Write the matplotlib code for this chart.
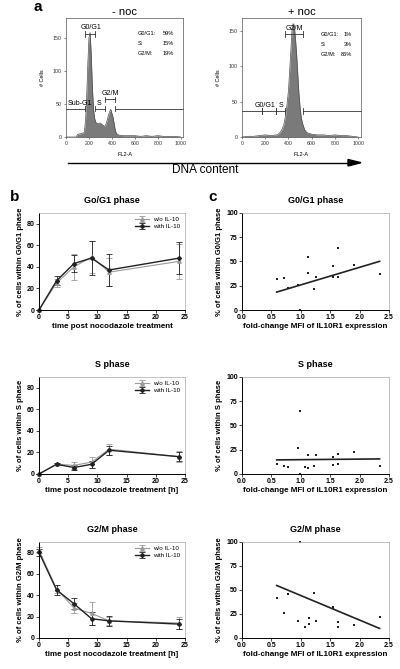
import matplotlib.pyplot as plt
import numpy as np

plt.rcParams['font.family'] = ['Liberation Sans', 'DejaVu Sans']

# ---- panel a: DNA content histograms (FL2-A channel, # cells) ----
noc_minus_x = [0, 90, 100, 130, 160, 170, 180, 190, 200, 210, 220, 230, 240, 250, 260, 280,
               300, 320, 340, 350, 360, 370, 380, 390, 400, 410, 420, 430, 440, 460, 500,
               550, 600, 650, 700, 750, 800, 850, 900, 950, 1000]
noc_minus_y = [0, 0, 4, 5, 7, 25, 60, 110, 150, 158, 125, 75, 42, 28, 22, 20,
               21, 18, 16, 20, 26, 33, 38, 42, 36, 30, 20, 10, 5, 3, 2,
               2, 2, 1, 2, 1, 2, 1, 1, 1, 0]
noc_plus_x = [0, 50, 100, 150, 200, 250, 300, 320, 340, 360, 380, 400, 420, 430, 440, 450,
              460, 470, 480, 490, 500, 510, 520, 540, 560, 600, 650, 700, 750, 800, 850,
              900, 950, 1000]
noc_plus_y = [0, 1, 1, 2, 3, 2, 3, 5, 9, 17, 35, 65, 120, 150, 160, 158,
              140, 118, 90, 62, 42, 28, 20, 10, 6, 4, 3, 3, 2, 3, 2,
              2, 1, 0]

# gates: (name, start, end, height)
gates_minus = [('Sub-G1', 0, 168, 43), ('G0/G1', 168, 252, 156), ('S', 252, 342, 43),
               ('G2/M', 342, 429, 57), ('', 429, 1020, 43)]
gates_plus = [('', 0, 171, 36.5), ('G0/G1', 171, 294, 36.5), ('S', 294, 371, 36.5),
              ('G2/M', 371, 529, 145), ('', 529, 1025, 36.5)]
stats_labels = ['G0/G1:', 'S:', 'G2/M:']
stats_minus = ['59%', '15%', '19%']
stats_plus = ['1%', '3%', '86%']

# ---- panel b: time course ----
hours = [0, 3, 6, 9, 12, 24]
g1_wo = [0, 25, 40, 49, 35, 45]
g1_wo_err = [0, 4, 12, 15, 13, 16]
g1_with = [0, 27, 43, 48, 37, 48]
g1_with_err = [0, 4, 8, 16, 15, 15]
s_wo = [0, 9, 8, 11, 23, 16]
s_wo_err = [0, 1, 3, 5, 5, 5]
s_with = [0, 9, 6, 9, 22, 16]
s_with_err = [0, 1, 2, 3, 4, 4]
g2_wo = [82, 46, 28, 23, 16, 14]
g2_wo_err = [3, 4, 5, 11, 4, 6]
g2_with = [80, 45, 32, 18, 16, 13]
g2_with_err = [3, 5, 5, 6, 5, 5]

# ---- panel c: correlation with IL10R1 expression ----
fold_g1 = [0.59, 0.71, 0.79, 0.96, 0.99, 1.13, 1.13, 1.22, 1.26, 1.54, 1.555, 1.63, 1.64, 1.91, 2.34]
pct_g1 = [32.3, 33, 22.8, 25.9, 0, 54.4, 38.1, 21.1, 33.7, 34, 44.9, 64, 33.7, 46.3, 37.4]
fold_s = [0.59, 0.71, 0.79, 0.96, 0.99, 0.99, 1.07, 1.13, 1.13, 1.22, 1.26, 1.54, 1.555, 1.63, 1.63, 1.91, 2.34]
pct_s = [9.9, 8.6, 7.5, 26.7, 65, 0, 7.5, 19.9, 6.2, 8.2, 19.2, 9.6, 17.1, 20.5, 10.3, 22.6, 8.2]
fold_g2 = [0.59, 0.71, 0.79, 0.96, 0.99, 1.07, 1.14, 1.14, 1.22, 1.26, 1.54, 1.55, 1.63, 1.64, 1.91, 2.34]
pct_g2 = [41.2, 25.8, 46, 17.2, 100, 11.3, 21, 14.8, 47, 17.5, 32.6, 31, 11.3, 16.2, 14, 22]
# regression lines: (intercept, slope), x range
fit_g1 = (7.75, 18.06)
fit_s = (14.16, 0.57)
fit_g2 = (69.6, -25.5)
fit_range = (0.59, 2.34)

fig = plt.figure(figsize=(4, 6.69), dpi=100)
W, H = 400, 669


def box(l, t, r, b):
    return [l / W, 1 - b / H, (r - l) / W, (b - t) / H]


def histo(ax, x, y, gates, title, ymax, xmax):
    ax.fill_between(x, y, color='#7a7a7a', lw=0)
    ax.plot(x, y, color='#505050', lw=0.5)
    ax.set_xlim(0, xmax)
    ax.set_ylim(0, ymax)
    ax.set_xticks([0, 200, 400, 600, 800, 1000])
    ax.set_yticks([0, 50, 100, 150])
    ax.tick_params(labelsize=3.8, length=1.5, width=0.4, pad=1.5, colors='#333333')
    for s in ax.spines.values():
        s.set_linewidth(0.5)
        s.set_color('#555555')
    ax.set_xlabel('FL2-A', fontsize=4, labelpad=4)
    ax.set_ylabel('# Cells', fontsize=4, labelpad=6)
    ax.set_title(title, fontsize=8, pad=2)
    for name, x0, x1, h in gates:
        ax.plot([x0, x1], [h, h], color='#333333', lw=0.6, clip_on=False)
        for xe in (x0, x1):
            if 0 < xe < 1000:
                ax.plot([xe, xe], [h - 4, h + 4], color='#333333', lw=0.6)


def stats(ax, x0, x1, ytop, step, values):
    for i, lab in enumerate(stats_labels):
        ax.text(x0, ytop - i * step, lab, fontsize=4.1, va='center')
        ax.text(x1, ytop - i * step, values[i], fontsize=4.1, ha='right', va='center')


ax_am = fig.add_axes(box(66, 18, 183, 137))
histo(ax_am, noc_minus_x, noc_minus_y, gates_minus, '- noc', 180, 1020)
ax_am.text(14, 48, 'Sub-G1', fontsize=5)
ax_am.text(217, 163, 'G0/G1', fontsize=5, ha='center')
ax_am.text(292, 48, 'S', fontsize=5, ha='center')
ax_am.text(385, 63, 'G2/M', fontsize=5, ha='center')
stats(ax_am, 625, 945, 156, 15, stats_minus)

ax_ap = fig.add_axes(box(242, 18, 361, 137))
histo(ax_ap, noc_plus_x, noc_plus_y, gates_plus, '+ noc', 168, 1025)
ax_ap.text(200, 42, 'G0/G1', fontsize=5, ha='center')
ax_ap.text(338, 42, 'S', fontsize=5, ha='center')
ax_ap.text(451, 151, 'G2/M', fontsize=5, ha='center')
stats(ax_ap, 680, 945, 145, 14, stats_plus)

fig.text(33 / W, 1 - 7 / H, 'a', fontsize=11, fontweight='bold', va='center')
fig.add_artist(plt.Line2D([68 / W, 352 / W], [1 - 162.7 / H] * 2, color='black', lw=1.0))
fig.add_artist(plt.Polygon([[348 / W, 1 - 159.5 / H], [361 / W, 1 - 162.7 / H],
                            [348 / W, 1 - 166 / H]], closed=True, color='black'))
fig.text(205 / W, 1 - 170 / H, 'DNA content', fontsize=8.5, ha='center', va='center')


def style_axes(ax, title, ylabel, xlabel):
    ax.tick_params(labelsize=5, length=2, width=0.5, pad=1)
    for lab in ax.get_xticklabels() + ax.get_yticklabels():
        lab.set_fontweight('bold')
    for s in ['left', 'bottom']:
        ax.spines[s].set_linewidth(0.7)
    for s in ['top', 'right']:
        ax.spines[s].set_linewidth(0.5)
        ax.spines[s].set_color('#aaaaaa')
    ax.set_title(title, fontsize=6.5, fontweight='bold', pad=7)
    ax.set_ylabel(ylabel, fontsize=5.5, fontweight='bold', labelpad=2)
    ax.set_xlabel(xlabel, fontsize=5.8, fontweight='bold', labelpad=1)


def timecourse(ax, wo, wo_err, wi, wi_err, title, ylabel, xlabel):
    ax.errorbar(hours, wo, yerr=wo_err, color='#9a9a9a', marker='^', ms=2.5, lw=0.8,
                capsize=2.2, elinewidth=0.6, capthick=0.6, label='w/o IL-10', clip_on=False)
    ax.errorbar(hours, wi, yerr=wi_err, color='#222222', marker='D', ms=2, lw=1.0,
                capsize=2.2, elinewidth=0.6, capthick=0.6, label='with IL-10', clip_on=False)
    ax.set_xlim(0, 25)
    ax.set_ylim(0, 90)
    ax.set_xticks([0, 5, 10, 15, 20, 25])
    ax.set_yticks([0, 20, 40, 60, 80])
    style_axes(ax, title, ylabel, xlabel)
    ax.legend(loc='upper right', fontsize=4.5, frameon=False, handlelength=2.2,
              borderpad=0.2, labelspacing=0.2)


def scatter(ax, fx, py, fit, title, ylabel):
    ax.scatter(fx, py, s=3, color='#222222', marker='s', lw=0, clip_on=False)
    xs = np.array(fit_range)
    ax.plot(xs, fit[0] + fit[1] * xs, color='#222222', lw=1.2)
    ax.set_xlim(0, 2.5)
    ax.set_ylim(0, 100)
    ax.set_xticks([0.0, 0.5, 1.0, 1.5, 2.0, 2.5])
    ax.set_xticklabels(['0.0', '0.5', '1.0', '1.5', '2.0', '2.5'])
    ax.set_yticks([0, 25, 50, 75, 100])
    style_axes(ax, title, ylabel, 'fold-change MFI of IL10R1 expression')


rows = [(212.7, 310), (376.7, 474), (541.7, 638)]
b1 = fig.add_axes(box(39, rows[0][0], 185, rows[0][1]))
timecourse(b1, g1_wo, g1_wo_err, g1_with, g1_with_err, 'Go/G1 phase',
           '% of cells within G0/G1 phase', 'time post nocodazole treatment')
b2 = fig.add_axes(box(39, rows[1][0], 185, rows[1][1]))
timecourse(b2, s_wo, s_wo_err, s_with, s_with_err, 'S phase',
           '% of cells within S phase', 'time post nocodazole treatment [h]')
b3 = fig.add_axes(box(39, rows[2][0], 185, rows[2][1]))
timecourse(b3, g2_wo, g2_wo_err, g2_with, g2_with_err, 'G2/M phase',
           '% of cells within G2/M phase', 'time post nocodazole treatment [h]')

c1 = fig.add_axes(box(242, rows[0][0], 389, rows[0][1]))
scatter(c1, fold_g1, pct_g1, fit_g1, 'G0/G1 phase', '% of cells within G0/G1 phase')
c2 = fig.add_axes(box(242, rows[1][0], 389, rows[1][1]))
scatter(c2, fold_s, pct_s, fit_s, 'S phase', '% of cells within S phase')
c3 = fig.add_axes(box(242, rows[2][0], 389, rows[2][1]))
scatter(c3, fold_g2, pct_g2, fit_g2, 'G2/M phase', '% of cells within G2/M phase')

fig.text(10 / W, 1 - 197 / H, 'b', fontsize=11, fontweight='bold', va='center')
fig.text(208 / W, 1 - 197 / H, 'c', fontsize=11, fontweight='bold', va='center')

fig.savefig('out.png', dpi=100)
